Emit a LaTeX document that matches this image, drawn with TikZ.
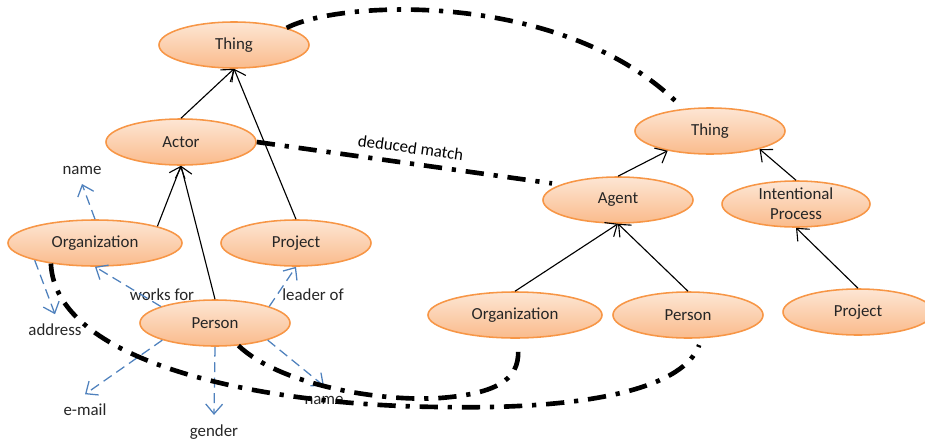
\documentclass[tikz,border=0pt]{standalone}
\usepackage{fontspec}
\setmainfont{Carlito}
\usetikzlibrary{shapes.geometric,arrows.meta}
\definecolor{ovalline}{HTML}{F79646}
\definecolor{ovaltop}{HTML}{FDE6D4}
\definecolor{ovalbot}{HTML}{FABB8C}
\definecolor{attrblue}{HTML}{4F81BD}
\tikzset{
    oval/.style={ellipse, draw=ovalline, line width=1.1pt, top color=ovaltop, bottom color=ovalbot,
        minimum width=3.75cm, minimum height=1.15cm, inner sep=0pt, align=center, text=black!85},
    isa/.style={->, line width=0.8pt},
    attr/.style={->, draw=attrblue, line width=0.9pt, dash pattern=on 7pt off 4pt},
    attrtext/.style={inner sep=2pt, outer sep=5pt, text=black!85},
    match/.style={line width=3.3pt, dash pattern=on 13pt off 7pt on 3pt off 7pt}
}
\begin{document}
\begin{tikzpicture}[x=0.025cm, y=-0.025cm, font=\fontsize{12}{14}\selectfont,
        >={Straight Barb[length=7pt,width=12pt]}]
            \useasboundingbox (0,0) rectangle (925,447);

            \node[oval] (ThingL) at (234,45) {Thing};
            \node[oval] (ActorL) at (181,142) {Actor};
            \node[oval, minimum width=4.35cm] (OrgL) at (95,243) {Organization};
            \node[oval] (ProjL) at (296,243) {Project};
            \node[oval] (PersonL) at (215,323) {Person};

            \node[oval] (ThingR) at (710,131) {Thing};
            \node[oval] (AgentR) at (618,200) {Agent};
            \node[oval, minimum width=3.7cm] (ProcR) at (796,204) {Intentional\\Process};
            \node[oval, minimum width=4.35cm] (OrgR) at (515,315) {Organization};
            \node[oval] (PersonR) at (688,315) {Person};
            \node[oval] (ProjR) at (858,312) {Project};

            \node[attrtext] (NameO) at (82,170) {name};
            \node[attrtext] (Address) at (55,330) {address};
            \node[attrtext] (EMail) at (85,410) {e-mail};
            \node[attrtext] (Gender) at (214,432) {gender};
            \node[attrtext] (NameP) at (324,400) {name};
            \node[attrtext] (WorksFor) at (162,295) {works for};
            \node[attrtext] (LeaderOf) at (313,295) {leader of};

            \draw[isa] (ActorL.north) -- (ThingL.south);
            \draw[isa] (ProjL.north) -- (ThingL.south);
            \draw[isa] (OrgL.15) -- (ActorL.south);
            \draw[isa] (PersonL.north) -- (ActorL.south);
            \draw[isa] (AgentR.north) -- (ThingR.205);
            \draw[isa] (ProcR.north) -- (ThingR.-20);
            \draw[isa] (OrgR.north) -- (AgentR.south);
            \draw[isa] (PersonR.north) -- (AgentR.south);
            \draw[isa] (ProjR.north) -- (ProcR.south);

            \draw[attr] (OrgL.north) -- (NameO.south);
            \draw[attr] (OrgL.196) -- (Address.north);
            \draw[attr] (PersonL.163) -- (OrgL.south);
            \draw[attr] (PersonL.17) -- (ProjL.south);
            \draw[attr] (PersonL.198) -- (EMail.north);
            \draw[attr] (PersonL.south) -- (Gender.north);
            \draw[attr] (PersonL.-18) -- (NameP.north);

            \draw[match, shorten >=7pt] (ThingL.18) .. controls (340,0) and (560,-10) .. (ThingR.140);
            \draw[match, shorten >=6pt] (ActorL.east) -- node[above, sloped, yshift=2pt] {deduced match} (AgentR.165);
            \draw[match, shorten >=5pt] (OrgL.205) .. controls (55,360) and (250,405) .. (440,407)
                .. controls (600,410) and (685,385) .. (PersonR.300);
            \draw[match, shorten >=5pt] (PersonL.-44) .. controls (280,385) and (380,402) .. (440,398)
                .. controls (505,393) and (521,375) .. (OrgR.-85);
        \end{tikzpicture}
\end{document}
